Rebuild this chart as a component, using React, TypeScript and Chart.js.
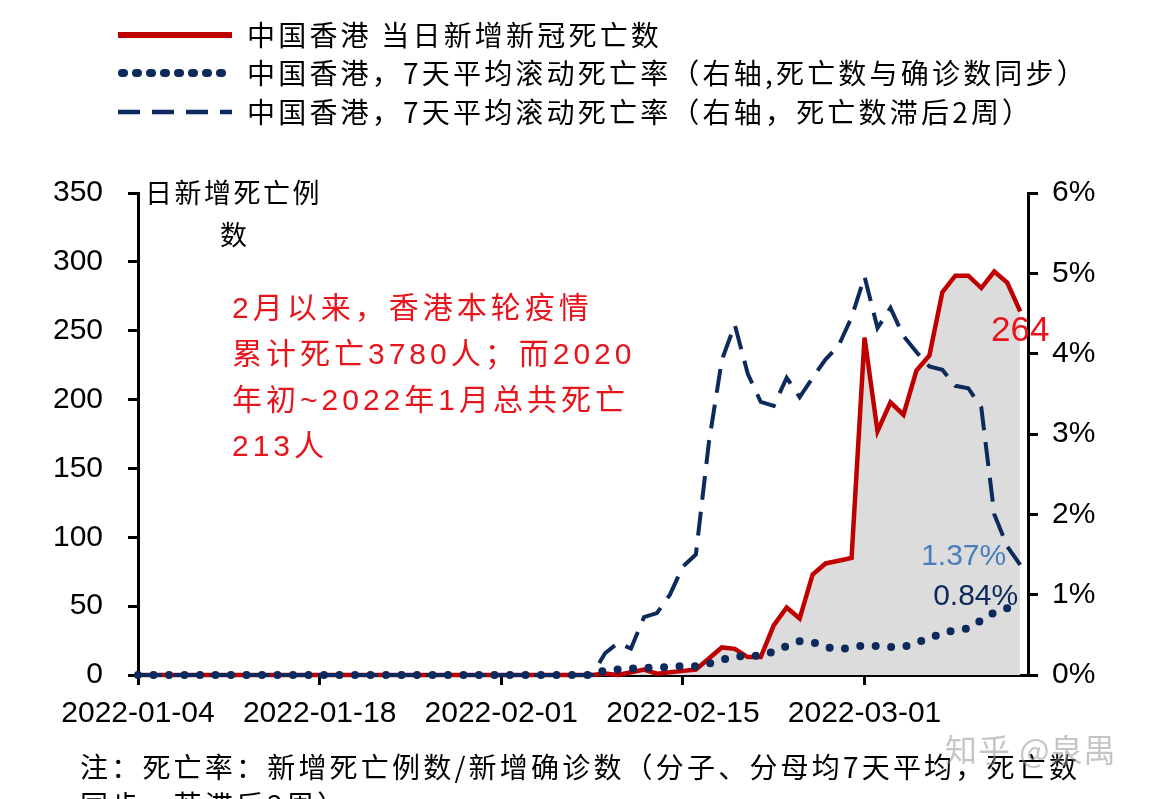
import React, { useEffect, useRef } from "react";
import { Chart, registerables } from "chart.js";

Chart.register(...registerables);

// ---- data (day index 0 = 2022-01-04) ----
const xTickDays = [0, 14, 28, 42, 56];
const xTickLabels = ["2022-01-04", "2022-01-18", "2022-02-01", "2022-02-15", "2022-03-01"];

// 中国香港 当日新增新冠死亡数 (left axis)
const dailyDeaths = [
  0, 0, 0, 0, 0, 0, 0, 0, 0, 0, 0, 0, 0, 0, 0, 0, 0, 0, 0, 0, 0, 0, 0, 0, 0, 0, 0, 0, 0, 0, 0, 0, 0, 0, 0, 0,
  1, 0, 2, 4, 1, 2, 3, 4,
  12, 20, 19, 13, 13,
  36, 49, 41, 73, 81, 83, 85,
  245, 177, 198, 189, 221, 232, 278, 290, 290, 281, 293, 285, 264,
];

// 7天平均滚动死亡率（死亡数与确诊数同步）, % (right axis)
const rateSync = [
  0, 0, 0, 0, 0, 0, 0, 0, 0, 0, 0, 0, 0, 0, 0, 0, 0, 0, 0, 0, 0, 0, 0, 0, 0, 0, 0, 0, 0, 0, 0, 0, 0, 0, 0, 0,
  0.06, 0.07, 0.08, 0.09, 0.09, 0.1, 0.11, 0.11,
  0.14, 0.19, 0.23, 0.24, 0.24,
  0.29, 0.36, 0.42, 0.41, 0.35, 0.32, 0.34,
  0.37, 0.36, 0.35, 0.35, 0.4, 0.46, 0.52, 0.56, 0.58, 0.68, 0.78, 0.83, 0.84,
];

// 7天平均滚动死亡率（死亡数滞后2周）, % (right axis)
const rateLag = [
  0, 0, 0, 0, 0, 0, 0, 0, 0, 0, 0, 0, 0, 0, 0, 0, 0, 0, 0, 0, 0, 0, 0, 0, 0, 0, 0, 0, 0, 0, 0, 0, 0, 0, 0, 0,
  0.27, 0.4, 0.33, 0.72, 0.77, 1.0, 1.35, 1.5,
  2.89, 3.92, 4.36, 3.75, 3.4,
  3.35, 3.7, 3.46, 3.7, 3.93, 4.1, 4.45,
  4.96, 4.32, 4.57, 4.22, 4.02, 3.84, 3.8, 3.6, 3.57, 3.33, 2.0, 1.6, 1.37,
];

const legendLabels = [
  "中国香港 当日新增新冠死亡数",
  "中国香港，7天平均滚动死亡率（右轴,死亡数与确诊数同步）",
  "中国香港，7天平均滚动死亡率（右轴，死亡数滞后2周）",
];
const yTitleLines = ["日新增死亡例", "数"];
const noteLines = [
  "2月以来，香港本轮疫情",
  "累计死亡3780人；而2020",
  "年初~2022年1月总共死亡",
  "213人",
];
const footnoteLines = [
  "注：死亡率：新增死亡例数/新增确诊数（分子、分母均7天平均，死亡数",
  "同步，若滞后2周）",
];
const watermark = "知乎 @泉禺";

const RED = "#C00000";
const NAVY = "#0C2A5B";
const STEEL = "#4A7EBB";
const BRIGHT_RED = "#E8141C";
const FILL = "#DCDCDC";
const NUM_FONT = "'Liberation Sans', Arial, 'Noto Sans CJK SC', sans-serif";
const CJK_FONT = "'Noto Sans CJK SC', 'Liberation Sans', sans-serif";

function drawText(
  ctx: CanvasRenderingContext2D,
  s: string,
  x: number,
  y: number,
  font: string,
  color: string,
  align: CanvasTextAlign = "left",
  spacing = "0px"
) {
  ctx.save();
  ctx.font = font;
  ctx.fillStyle = color;
  ctx.textAlign = align;
  ctx.textBaseline = "middle";
  (ctx as any).letterSpacing = spacing;
  ctx.fillText(s, x, y);
  ctx.restore();
}

const overlayPlugin = {
  id: "overlay",
  afterDraw(chart: any) {
    const ctx: CanvasRenderingContext2D = chart.ctx;
    const area = chart.chartArea;
    const xS = chart.scales.x;
    const yS = chart.scales.y;
    const y1S = chart.scales.y1;

    // legend
    const legendY = [35, 73, 112];
    const sx0 = 118;
    const sx1 = 232;
    ctx.save();
    ctx.strokeStyle = RED;
    ctx.lineWidth = 6;
    ctx.beginPath();
    ctx.moveTo(sx0, legendY[0]);
    ctx.lineTo(sx1, legendY[0]);
    ctx.stroke();
    ctx.strokeStyle = NAVY;
    ctx.lineWidth = 8;
    ctx.lineCap = "round";
    ctx.setLineDash([2, 12]);
    ctx.beginPath();
    ctx.moveTo(sx0 + 4, legendY[1]);
    ctx.lineTo(sx1, legendY[1]);
    ctx.stroke();
    ctx.lineCap = "butt";
    ctx.lineWidth = 4.5;
    ctx.setLineDash([22, 12]);
    ctx.beginPath();
    ctx.moveTo(sx0, legendY[2]);
    ctx.lineTo(sx1, legendY[2]);
    ctx.stroke();
    ctx.restore();
    legendLabels.forEach((t, i) => {
      drawText(ctx, t, 247, legendY[i], `28px ${CJK_FONT}`, "#000", "left", "3.2px");
    });

    // y axis title
    drawText(ctx, yTitleLines[0], area.left + 7, area.top, `27px ${CJK_FONT}`, "#000", "left", "2.5px");
    drawText(ctx, yTitleLines[1], area.left + 82, area.top + 42, `27px ${CJK_FONT}`, "#000", "left", "2.5px");

    // red note
    noteLines.forEach((t, i) => {
      drawText(ctx, t, 232, 310 + i * 46, `30px ${NUM_FONT}`, BRIGHT_RED, "left", "4px");
    });

    // last value labels
    const last = dailyDeaths.length - 1;
    const xr = xS.getPixelForValue(last);
    drawText(ctx, String(dailyDeaths[last]), xr, yS.getPixelForValue(dailyDeaths[last]) + 20, `35px ${NUM_FONT}`, BRIGHT_RED, "center");
    drawText(ctx, rateLag[last].toFixed(2) + "%", xr - 14, y1S.getPixelForValue(rateLag[last]) - 8, `30px ${NUM_FONT}`, STEEL, "right");
    drawText(ctx, rateSync[last].toFixed(2) + "%", xr - 2, y1S.getPixelForValue(rateSync[last]) - 11, `30px ${NUM_FONT}`, NAVY, "right");

    // footnote
    drawText(ctx, footnoteLines[0], 80, 767, `28px ${CJK_FONT}`, "#000", "left", "3.2px");
    drawText(ctx, footnoteLines[1], 80, 805, `28px ${CJK_FONT}`, "#000", "left", "3.2px");

    // watermark
    drawText(ctx, watermark, 945, 750, `32px ${CJK_FONT}`, "rgba(150,150,150,0.55)", "left", "1px");
  },
};

export default function App() {
  const ref = useRef<HTMLCanvasElement | null>(null);

  useEffect(() => {
    if (!ref.current) return;
    const tickFont = { family: NUM_FONT, size: 30 };
    const chart = new Chart(ref.current, {
      type: "line",
      data: {
        datasets: [
          {
            label: legendLabels[1],
            data: rateSync.map((y, i) => ({ x: i, y })),
            yAxisID: "y1",
            borderColor: NAVY,
            borderWidth: 8,
            borderDash: [0, 15.5],
            borderCapStyle: "round",
            pointRadius: 0,
            fill: false,
            clip: false,
          } as any,
          {
            label: legendLabels[2],
            data: rateLag.map((y, i) => ({ x: i, y })),
            yAxisID: "y1",
            borderColor: NAVY,
            borderWidth: 4,
            borderDash: [24, 12],
            pointRadius: 0,
            fill: false,
            clip: false,
          } as any,
          {
            label: legendLabels[0],
            data: dailyDeaths.map((y, i) => ({ x: i, y })),
            yAxisID: "y",
            borderColor: RED,
            borderWidth: 4.5,
            backgroundColor: FILL,
            pointRadius: 0,
            fill: "origin",
            clip: false,
          } as any,
        ],
      },
      options: {
        responsive: false,
        animation: false,
        devicePixelRatio: 1,
        layout: { padding: { top: 193, left: 0, right: 0, bottom: 0 } },
        plugins: {
          legend: { display: false },
          tooltip: { enabled: false },
          filler: { drawTime: "beforeDatasetsDraw" },
        } as any,
        scales: {
          x: {
            type: "linear",
            min: 0,
            max: 68.6,
            afterBuildTicks: (s: any) => {
              s.ticks = xTickDays.map((v) => ({ value: v }));
            },
            afterFit: (s: any) => {
              s.height = 124;
            },
            ticks: {
              autoSkip: false,
              maxRotation: 0,
              padding: 11,
              color: "#000",
              font: tickFont,
              callback: (v: any) => {
                const idx = xTickDays.indexOf(Number(v));
                return idx >= 0 ? xTickLabels[idx] : "";
              },
            },
            grid: { drawOnChartArea: false, drawTicks: true, tickLength: 10, color: "#000", lineWidth: 3 },
            border: { display: true, color: "#000", width: 3 },
          },
          y: {
            position: "left",
            min: 0,
            max: 350,
            afterFit: (s: any) => {
              s.width = 138;
            },
            ticks: { stepSize: 50, padding: 25, color: "#000", font: tickFont },
            grid: { drawOnChartArea: false, drawTicks: true, tickLength: 10, color: "#000", lineWidth: 3 },
            border: { display: true, color: "#000", width: 3 },
          },
          y1: {
            position: "right",
            min: 0,
            max: 6,
            afterFit: (s: any) => {
              s.width = 126;
            },
            ticks: {
              stepSize: 1,
              padding: 14,
              color: "#000",
              font: tickFont,
              callback: (v: any) => `${v}%`,
            },
            grid: { drawOnChartArea: false, drawTicks: true, tickLength: 10, color: "#000", lineWidth: 3 },
            border: { display: true, color: "#000", width: 3 },
          },
        },
      } as any,
      plugins: [overlayPlugin],
    });
    return () => chart.destroy();
  }, []);

  return (
    <div style={{ position: "fixed", left: 0, top: 0, width: 1154, height: 799, background: "#fff", overflow: "hidden" }}>
      <canvas ref={ref} width={1154} height={799} style={{ display: "block", width: 1154, height: 799 }} />
    </div>
  );
}
